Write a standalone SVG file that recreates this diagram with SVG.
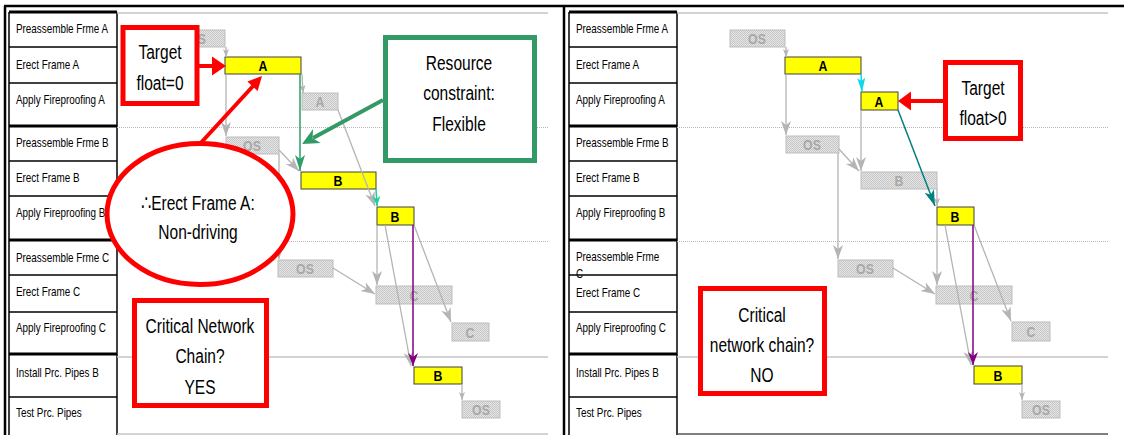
<svg xmlns="http://www.w3.org/2000/svg" width="1124" height="435" viewBox="0 0 1124 435">
  <style>
    .frame { stroke: #000; stroke-width: 2.5; fill: none; }
    .tbl { stroke: #000; stroke-width: 1.5; fill: none; }
    .tblb { stroke: #000; stroke-width: 3; fill: none; }
    .lbl { font-family: "Liberation Sans", Arial, sans-serif; font-size: 12.5px; fill: #000; }
    .grid { stroke: #c4c4c4; stroke-width: 1.5; fill: none; }
    .gridd { stroke: #b8b8b8; stroke-width: 1; stroke-dasharray: 1 1; fill: none; }
    .barg { fill: url(#dither); stroke: #bdbdbd; stroke-width: 1; }
    .bary { fill: #ffff00; stroke: #404040; stroke-width: 1; }
    .tg { font-family: "Liberation Sans", Arial, sans-serif; font-weight: bold; font-size: 15px; fill: #a8a8a8; text-anchor: middle; }
    .ty { font-family: "Liberation Sans", Arial, sans-serif; font-weight: bold; font-size: 15px; fill: #000; text-anchor: middle; }
    .conn { stroke: #b4b4b4; stroke-width: 1.3; fill: none; }
    .co { font-family: "Liberation Sans", Arial, "DejaVu Sans", sans-serif; font-size: 21px; fill: #000; text-anchor: middle; }
    .redbox { fill: #fff; stroke: #ff0000; stroke-width: 5; }
    .grnbox { fill: #fff; stroke: #339966; stroke-width: 5; }
  </style>
  <defs>
    <pattern id="dither" width="2" height="2" patternUnits="userSpaceOnUse">
      <rect width="2" height="2" fill="#e6e6e6"/>
      <rect width="1" height="1" fill="#c6c6c6"/>
      <rect x="1" y="1" width="1" height="1" fill="#c6c6c6"/>
    </pattern>
    <marker id="ag" markerUnits="userSpaceOnUse" markerWidth="15" markerHeight="11" refX="14" refY="5" orient="auto">
      <path d="M0,0 L14,5 L0,10 L4,5 z" fill="#b4b4b4"/>
    </marker>
    <marker id="ags" markerUnits="userSpaceOnUse" markerWidth="9" markerHeight="7" refX="8" refY="3" orient="auto">
      <path d="M0,0 L8,3 L0,6 L2,3 z" fill="#b4b4b4"/>
    </marker>
    <marker id="agrn" markerUnits="userSpaceOnUse" markerWidth="17" markerHeight="11" refX="16" refY="5" orient="auto">
      <path d="M0,0 L16,5 L0,10 L4,5 z" fill="#2e9e6a"/>
    </marker>
    <marker id="aaq" markerUnits="userSpaceOnUse" markerWidth="11" markerHeight="9" refX="10" refY="4" orient="auto">
      <path d="M0,0 L10,4 L0,8 L3,4 z" fill="#1ccf9c"/>
    </marker>
    <marker id="acy" markerUnits="userSpaceOnUse" markerWidth="15" markerHeight="9" refX="14" refY="4" orient="auto">
      <path d="M0,0 L14,4 L0,8 L3,4 z" fill="#10d8e8"/>
    </marker>
    <marker id="atl" markerUnits="userSpaceOnUse" markerWidth="17" markerHeight="11" refX="16" refY="5" orient="auto">
      <path d="M0,0 L16,5 L0,10 L4,5 z" fill="#008080"/>
    </marker>
    <marker id="apu" markerUnits="userSpaceOnUse" markerWidth="14" markerHeight="11" refX="13" refY="5" orient="auto">
      <path d="M0,0 L13,5 L0,10 L4,5 z" fill="#800080"/>
    </marker>
  </defs>

  <rect width="1124" height="435" fill="#fff"/>

  <!-- outer frame and panel divider -->
  <line class="frame" x1="4" y1="6" x2="1124" y2="6"/>
  <line class="frame" x1="5" y1="6" x2="5" y2="435"/>
  <line class="frame" x1="564" y1="6" x2="564" y2="435"/>

  <!-- ===== Left schedule ===== -->
  <g id="panel-left">
    <g id="task-table-left">
      <line class="tbl" x1="9" y1="12" x2="9" y2="435"/>
      <line class="tbl" x1="117" y1="12" x2="117" y2="435"/>
      <line class="tblb" x1="9" y1="12" x2="117" y2="12"/>
      <line class="tbl" x1="9" y1="47" x2="117" y2="47"/>
      <line class="tbl" x1="9" y1="83" x2="117" y2="83"/>
      <line class="tblb" x1="9" y1="126" x2="117" y2="126"/>
      <line class="tbl" x1="9" y1="161" x2="117" y2="161"/>
      <line class="tbl" x1="9" y1="196" x2="117" y2="196"/>
      <line class="tblb" x1="9" y1="240" x2="117" y2="240"/>
      <line class="tbl" x1="9" y1="275" x2="117" y2="275"/>
      <line class="tbl" x1="9" y1="312" x2="117" y2="312"/>
      <line class="tblb" x1="9" y1="354" x2="117" y2="354"/>
      <line class="tbl" x1="9" y1="397" x2="117" y2="397"/>
      <text class="lbl" transform="translate(16,33) scale(0.79,1)">Preassemble Frme A</text>
      <text class="lbl" transform="translate(16,69) scale(0.79,1)">Erect Frame A</text>
      <text class="lbl" transform="translate(16,104) scale(0.79,1)">Apply Fireproofing A</text>
      <text class="lbl" transform="translate(16,147) scale(0.79,1)">Preassemble Frme B</text>
      <text class="lbl" transform="translate(16,182) scale(0.79,1)">Erect Frame B</text>
      <text class="lbl" transform="translate(16,217) scale(0.79,1)">Apply Fireproofing B</text>
      <text class="lbl" transform="translate(16,262) scale(0.79,1)">Preassemble Frme C</text>
      <text class="lbl" transform="translate(16,296) scale(0.79,1)">Erect Frame C</text>
      <text class="lbl" transform="translate(16,332) scale(0.79,1)">Apply Fireproofing C</text>
      <text class="lbl" transform="translate(16,377) scale(0.79,1)">Install Prc. Pipes B</text>
      <text class="lbl" transform="translate(16,417) scale(0.79,1)">Test Prc. Pipes</text>
    </g>

    <g id="grid-left">
      <line class="grid" x1="117" y1="13" x2="548" y2="13"/>
      <line class="gridd" x1="117" y1="127.5" x2="548" y2="127.5"/>
      <line class="gridd" x1="117" y1="241.5" x2="548" y2="241.5"/>
      <line class="grid" x1="117" y1="357" x2="548" y2="357"/>
      <line class="grid" x1="117" y1="434" x2="548" y2="434"/>
    </g>

    <g id="bar-os-a-left"><rect class="barg" x="170" y="30" width="55" height="17"/><text class="tg" transform="translate(197,44) scale(0.82,1)">OS</text></g>
    <g id="bar-erect-a-left"><rect class="bary" x="225" y="57" width="76" height="17"/><text class="ty" transform="translate(263,71) scale(0.82,1)">A</text></g>
    <g id="bar-fp-a-left"><rect class="barg" x="302" y="93" width="36" height="17"/><text class="tg" transform="translate(320,107) scale(0.82,1)">A</text></g>
    <g id="bar-os-b-left"><rect class="barg" x="226" y="137" width="53" height="17"/><text class="tg" transform="translate(252,151) scale(0.82,1)">OS</text></g>
    <g id="bar-erect-b-left"><rect class="bary" x="301" y="172" width="75" height="17"/><text class="ty" transform="translate(338,186) scale(0.82,1)">B</text></g>
    <g id="bar-fp-b-left"><rect class="bary" x="377" y="207" width="37" height="18"/><text class="ty" transform="translate(395,222) scale(0.82,1)">B</text></g>
    <g id="bar-os-c-left"><rect class="barg" x="278" y="260" width="55" height="17"/><text class="tg" transform="translate(305,274) scale(0.82,1)">OS</text></g>
    <g id="bar-erect-c-left"><rect class="barg" x="376" y="286" width="76" height="18"/><text class="tg" transform="translate(414,301) scale(0.82,1)">C</text></g>
    <g id="bar-fp-c-left"><rect class="barg" x="452" y="323" width="37" height="18"/><text class="tg" transform="translate(470,338) scale(0.82,1)">C</text></g>
    <g id="bar-pipe-b-left"><rect class="bary" x="414" y="367" width="48" height="17"/><text class="ty" transform="translate(438,381) scale(0.82,1)">B</text></g>
    <g id="bar-test-left"><rect class="barg" x="462" y="401" width="38" height="17"/><text class="tg" transform="translate(481,415) scale(0.82,1)">OS</text></g>

    <g id="connectors-left">
      <line class="conn" x1="226" y1="47" x2="226" y2="57" marker-end="url(#ags)"/>
      <line class="conn" x1="226" y1="74" x2="226" y2="136" marker-end="url(#ag)"/>
      <line class="conn" x1="302" y1="74" x2="303" y2="93" marker-end="url(#ags)"/>
      <line class="conn" x1="279" y1="150" x2="299" y2="171" marker-end="url(#ag)"/>
      <line class="conn" x1="279" y1="154" x2="279" y2="259" marker-end="url(#ag)"/>
      <line class="conn" x1="338" y1="110" x2="375" y2="206" marker-end="url(#ag)"/>
      <line class="conn" x1="333" y1="268" x2="375" y2="294" marker-end="url(#ag)"/>
      <line class="conn" x1="377" y1="225" x2="377" y2="285" marker-end="url(#ag)"/>
      <line class="conn" x1="385" y1="225" x2="411" y2="366" marker-end="url(#ag)"/>
      <line class="conn" x1="414" y1="225" x2="451" y2="322" marker-end="url(#ag)"/>
      <line class="conn" x1="462" y1="384" x2="462" y2="400" marker-end="url(#ags)"/>
      <line stroke="#2e9e6a" stroke-width="1.5" x1="300" y1="74" x2="300" y2="171" marker-end="url(#agrn)"/>
      <line stroke="#1ccf9c" stroke-width="1.5" x1="376" y1="189" x2="377" y2="206" marker-end="url(#aaq)"/>
      <line stroke="#800080" stroke-width="1.5" x1="413" y1="225" x2="413" y2="366" marker-end="url(#apu)"/>
    </g>

    <g id="callout-target-zero">
      <rect class="redbox" x="123" y="27.5" width="74" height="76"/>
      <text class="co" transform="translate(160,59) scale(0.74,1)">Target</text>
      <text class="co" transform="translate(160,90) scale(0.74,1)">float=0</text>
      <line stroke="#ff0000" stroke-width="4" x1="199" y1="66" x2="213" y2="66"/>
      <polygon points="226,66 212,56.5 212,75.5" fill="#ff0000"/>
    </g>

    <g id="callout-resource">
      <rect class="grnbox" x="385.5" y="37.5" width="149" height="123"/>
      <text class="co" transform="translate(459,70) scale(0.74,1)">Resource</text>
      <text class="co" transform="translate(459,100) scale(0.74,1)">constraint:</text>
      <text class="co" transform="translate(459,131) scale(0.74,1)">Flexible</text>
      <line stroke="#339966" stroke-width="4" x1="383" y1="100" x2="313" y2="138"/>
      <polygon points="302,144 320.7,142.9 312.5,138.3 313.1,128.9" fill="#339966"/>
    </g>

    <g id="callout-non-driving">
      <line stroke="#ff0000" stroke-width="4" x1="198" y1="146" x2="254" y2="85"/>
      <polygon points="262,76 257.6,91 252.5,86.3 247.4,81.5" fill="#ff0000"/>
      <ellipse cx="200" cy="214" rx="93" ry="70.5" fill="#fff" stroke="#ff0000" stroke-width="5"/>
      <text class="co" transform="translate(198,210) scale(0.74,1)">∴Erect Frame A:</text>
      <text class="co" transform="translate(198,239) scale(0.74,1)">Non-driving</text>
    </g>

    <g id="callout-critical-yes">
      <rect class="redbox" x="134.5" y="300.5" width="132" height="105"/>
      <text class="co" transform="translate(200,333) scale(0.74,1)">Critical Network</text>
      <text class="co" transform="translate(200,363) scale(0.74,1)">Chain?</text>
      <text class="co" transform="translate(200,394) scale(0.74,1)">YES</text>
    </g>
  </g>

  <!-- ===== Right schedule (same layout, shifted) ===== -->
  <g id="panel-right" transform="translate(560,0)">
    <g id="task-table-right">
      <line class="tbl" x1="9" y1="12" x2="9" y2="435"/>
      <line class="tbl" x1="117" y1="12" x2="117" y2="435"/>
      <line class="tblb" x1="9" y1="12" x2="117" y2="12"/>
      <line class="tbl" x1="9" y1="47" x2="117" y2="47"/>
      <line class="tbl" x1="9" y1="83" x2="117" y2="83"/>
      <line class="tblb" x1="9" y1="126" x2="117" y2="126"/>
      <line class="tbl" x1="9" y1="161" x2="117" y2="161"/>
      <line class="tbl" x1="9" y1="196" x2="117" y2="196"/>
      <line class="tblb" x1="9" y1="240" x2="117" y2="240"/>
      <line class="tbl" x1="9" y1="275" x2="117" y2="275"/>
      <line class="tbl" x1="9" y1="312" x2="117" y2="312"/>
      <line class="tblb" x1="9" y1="354" x2="117" y2="354"/>
      <line class="tbl" x1="9" y1="397" x2="117" y2="397"/>
      <text class="lbl" transform="translate(16,33) scale(0.79,1)">Preassemble Frme A</text>
      <text class="lbl" transform="translate(16,69) scale(0.79,1)">Erect Frame A</text>
      <text class="lbl" transform="translate(16,104) scale(0.79,1)">Apply Fireproofing A</text>
      <text class="lbl" transform="translate(16,147) scale(0.79,1)">Preassemble Frme B</text>
      <text class="lbl" transform="translate(16,182) scale(0.79,1)">Erect Frame B</text>
      <text class="lbl" transform="translate(16,217) scale(0.79,1)">Apply Fireproofing B</text>
      <text class="lbl" transform="translate(16,261) scale(0.79,1)">Preassemble Frme</text>
      <text class="lbl" transform="translate(16,278) scale(0.79,1)">C</text>
      <text class="lbl" transform="translate(16,297) scale(0.79,1)">Erect Frame C</text>
      <text class="lbl" transform="translate(16,332) scale(0.79,1)">Apply Fireproofing C</text>
      <text class="lbl" transform="translate(16,377) scale(0.79,1)">Install Prc. Pipes B</text>
      <text class="lbl" transform="translate(16,417) scale(0.79,1)">Test Prc. Pipes</text>
    </g>

    <g id="grid-right">
      <line class="grid" x1="117" y1="13" x2="548" y2="13"/>
      <line class="gridd" x1="117" y1="127.5" x2="548" y2="127.5"/>
      <line class="gridd" x1="117" y1="241.5" x2="548" y2="241.5"/>
      <line class="grid" x1="117" y1="357" x2="548" y2="357"/>
      <line stroke="#555" stroke-width="1.5" x1="117" y1="434" x2="548" y2="434"/>
    </g>

    <g id="bar-os-a-right"><rect class="barg" x="170" y="30" width="55" height="17"/><text class="tg" transform="translate(197,44) scale(0.82,1)">OS</text></g>
    <g id="bar-erect-a-right"><rect class="bary" x="225" y="57" width="76" height="17"/><text class="ty" transform="translate(263,71) scale(0.82,1)">A</text></g>
    <g id="bar-fp-a-right"><rect class="bary" x="301" y="92" width="37" height="18"/><text class="ty" transform="translate(319,107) scale(0.82,1)">A</text></g>
    <g id="bar-os-b-right"><rect class="barg" x="226" y="136" width="53" height="17"/><text class="tg" transform="translate(252,150) scale(0.82,1)">OS</text></g>
    <g id="bar-erect-b-right"><rect class="barg" x="301" y="172" width="76" height="17"/><text class="tg" transform="translate(339,186) scale(0.82,1)">B</text></g>
    <g id="bar-fp-b-right"><rect class="bary" x="377" y="207" width="37" height="18"/><text class="ty" transform="translate(395,222) scale(0.82,1)">B</text></g>
    <g id="bar-os-c-right"><rect class="barg" x="278" y="260" width="55" height="17"/><text class="tg" transform="translate(305,274) scale(0.82,1)">OS</text></g>
    <g id="bar-erect-c-right"><rect class="barg" x="376" y="286" width="76" height="18"/><text class="tg" transform="translate(414,301) scale(0.82,1)">C</text></g>
    <g id="bar-fp-c-right"><rect class="barg" x="452" y="322" width="38" height="19"/><text class="tg" transform="translate(471,337) scale(0.82,1)">C</text></g>
    <g id="bar-pipe-b-right"><rect class="bary" x="414" y="366" width="48" height="18"/><text class="ty" transform="translate(438,381) scale(0.82,1)">B</text></g>
    <g id="bar-test-right"><rect class="barg" x="462" y="401" width="38" height="17"/><text class="tg" transform="translate(481,415) scale(0.82,1)">OS</text></g>

    <g id="connectors-right">
      <line class="conn" x1="226" y1="47" x2="226" y2="57" marker-end="url(#ags)"/>
      <line class="conn" x1="226" y1="74" x2="226" y2="135" marker-end="url(#ag)"/>
      <line class="conn" x1="301" y1="110" x2="301" y2="171" marker-end="url(#ag)"/>
      <line class="conn" x1="279" y1="149" x2="299" y2="171" marker-end="url(#ag)"/>
      <line class="conn" x1="278" y1="153" x2="278" y2="259" marker-end="url(#ag)"/>
      <line class="conn" x1="377" y1="189" x2="377" y2="206" marker-end="url(#ags)"/>
      <line class="conn" x1="333" y1="268" x2="375" y2="294" marker-end="url(#ag)"/>
      <line class="conn" x1="377" y1="225" x2="377" y2="285" marker-end="url(#ag)"/>
      <line class="conn" x1="385" y1="225" x2="411" y2="365" marker-end="url(#ag)"/>
      <line class="conn" x1="414" y1="225" x2="451" y2="321" marker-end="url(#ag)"/>
      <line class="conn" x1="462" y1="384" x2="462" y2="400" marker-end="url(#ags)"/>
      <line stroke="#10d8e8" stroke-width="1.5" x1="301" y1="74" x2="302" y2="92" marker-end="url(#acy)"/>
      <line stroke="#008080" stroke-width="1.5" x1="338" y1="110" x2="375" y2="206" marker-end="url(#atl)"/>
      <line stroke="#800080" stroke-width="1.5" x1="413" y1="225" x2="413" y2="365" marker-end="url(#apu)"/>
    </g>

    <g id="callout-target-positive">
      <rect class="redbox" x="385.5" y="62.5" width="75" height="76"/>
      <text class="co" transform="translate(423,95) scale(0.74,1)">Target</text>
      <text class="co" transform="translate(423,125) scale(0.74,1)">float&gt;0</text>
      <line stroke="#ff0000" stroke-width="4" x1="383" y1="101" x2="350" y2="101"/>
      <polygon points="338,101 351,91.5 351,110.5" fill="#ff0000"/>
    </g>

    <g id="callout-critical-no">
      <rect class="redbox" x="140.5" y="288.5" width="124" height="105"/>
      <text class="co" transform="translate(202,322) scale(0.74,1)">Critical</text>
      <text class="co" transform="translate(202,352) scale(0.74,1)">network chain?</text>
      <text class="co" transform="translate(202,382) scale(0.74,1)">NO</text>
    </g>
  </g>
</svg>
